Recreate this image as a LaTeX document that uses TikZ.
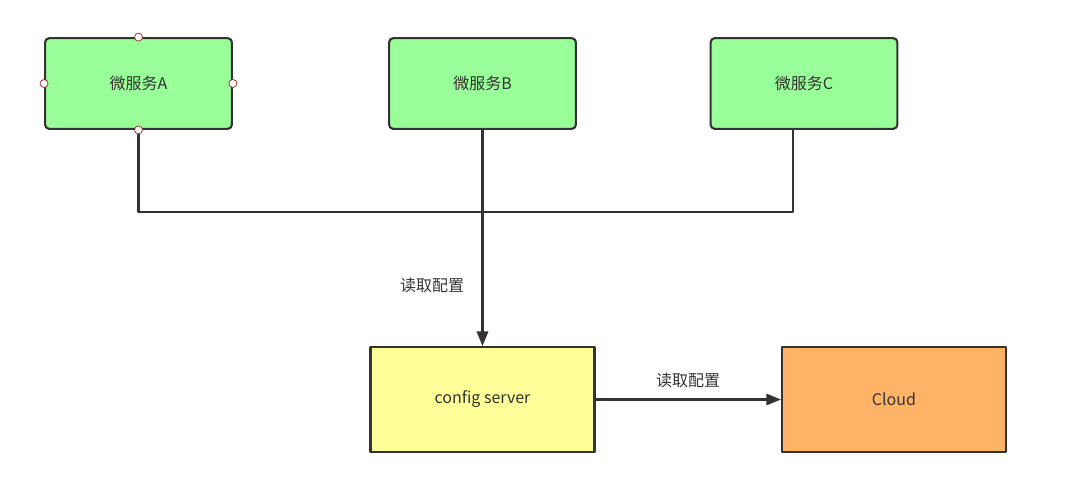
\documentclass[tikz,border=0pt]{standalone}
\usepackage{fontspec}
\setmainfont{Noto Sans CJK SC}
\usetikzlibrary{arrows.meta,calc}
\definecolor{ink}{HTML}{333333}
\definecolor{svcfill}{HTML}{99FF99}
\definecolor{cfgfill}{HTML}{FFFF99}
\definecolor{cloudfill}{HTML}{FFB366}
\definecolor{handle}{HTML}{A33333}

\begin{document}
\begin{tikzpicture}[
  x=0.75pt, y=-0.75pt, >=Triangle, line join=round,
  font=\fontsize{12}{14}\selectfont, text=ink,
  svc/.style={draw=ink, fill=svcfill, line width=1.6pt, rounded corners=3pt,
    minimum width=140pt, minimum height=68pt, inner sep=0pt},
  block/.style={draw=ink, line width=1.6pt,
    minimum width=168pt, minimum height=78.5pt, inner sep=0pt},
  wire/.style={ink, line width=1.6pt},
  dot/.style={circle, draw=handle, fill=white, line width=0.6pt,
    minimum size=6pt, inner sep=0pt}]

\useasboundingbox (0,0) rectangle (1080,496);

% ---- the three services --------------------------------------------------
\node[svc] (A) at (138.5,83.5) {微服务A};
\node[svc] (B) at (482.5,83.5) {微服务B};
\node[svc] (C) at (804,83.5)   {微服务C};

% ---- server and cloud ----------------------------------------------------
\node[block, fill=cfgfill]   (cfg)   at (482.5,399.5) {config server};
\node[block, fill=cloudfill] (cloud) at (894,399.5)   {Cloud};

% ---- the bus -------------------------------------------------------------
\coordinate (cfoot) at ($(C.south)+(-11,0)$);
\coordinate (busR)  at ($(cfoot)+(0,82)$);
\draw[wire] (A.south) |- (busR) -- (cfoot);

\draw[wire, -{Triangle[length=11pt,width=8.5pt]}] (B.south) -- (cfg.north);
\node (readB) at (432,285) {读取配置};

\draw[wire, -{Triangle[length=11pt,width=8.5pt]}] (cfg.east) -- (cloud.west);
\node (readC) at (688,380) {读取配置};

% ---- handles on A --------------------------------------------------------
\foreach \side in {north,south,east,west}
  \node[dot] at (A.\side) {};

\end{tikzpicture}
\end{document}
